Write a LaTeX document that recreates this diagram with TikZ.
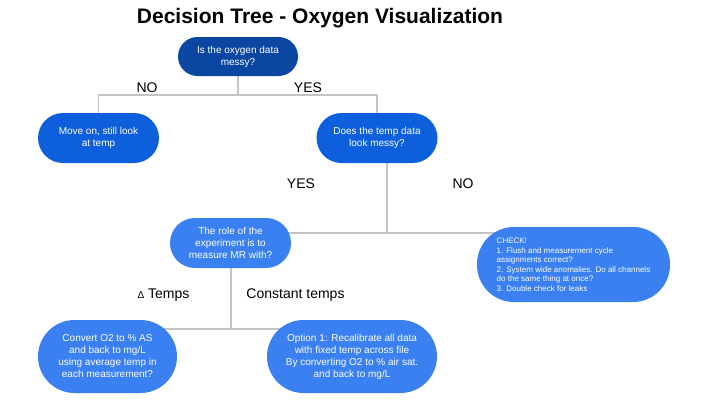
\documentclass[tikz,border=0pt]{standalone}
\usepackage{fontspec}
\setmainfont{Liberation Sans}
\pgfdeclarelayer{bg}
\pgfsetlayers{bg,main}
\definecolor{darkblue}{HTML}{0B47A1}
\definecolor{midblue}{HTML}{0E5FDC}
\definecolor{lightblue}{HTML}{3A80F0}
\definecolor{linegray}{HTML}{C4C4C4}
\tikzset{
  box/.style={rectangle, inner sep=0pt, text=white, align=center, font=\fontsize{10}{12}\selectfont},
  lbl/.style={font=\fontsize{14}{14}\selectfont, inner sep=0pt},
  conn/.style={draw=linegray, line width=1.2pt}
}
\begin{document}
\begin{tikzpicture}[x=1pt,y=-1pt]
\useasboundingbox (0,0) rectangle (720,405);
\node[font=\bfseries\fontsize{21}{21}\selectfont, inner sep=0pt] (title) at (320,18) {Decision Tree - Oxygen Visualization};

\node[box, fill=darkblue, minimum width=120, minimum height=39, rounded corners=19.5] (q1) at (238,56.5) {Is the oxygen data\\messy?};
\node[box, fill=midblue, minimum width=121, minimum height=50, rounded corners=25] (n2) at (98.5,138) {Move on, still look\\at temp};
\node[box, fill=midblue, minimum width=121, minimum height=50, rounded corners=25] (n3) at (377,138) {Does the temp data\\look messy?};
\node[box, fill=lightblue, minimum width=121, minimum height=50, rounded corners=25] (role) at (230.5,243) {The role of the\\experiment is to\\measure MR with?};
\node[box, fill=lightblue, minimum width=193, minimum height=75, rounded corners=37, align=left, font=\fontsize{8}{9.5}\selectfont] (check) at (573.5,264.5) {CHECK!\\1. Flush and measurement cycle\\assignments correct?\\2. System wide anomalies. Do all channels\\do the same thing at once?\\3. Double check for leaks};
\node[box, fill=lightblue, minimum width=139, minimum height=73, rounded corners=36.5] (convert) at (107.5,356.5) {Convert O2 to \% AS\\and back to mg/L\\using average temp in\\each measurement?};
\node[box, fill=lightblue, minimum width=170, minimum height=73, rounded corners=36.5] (option) at (352,356.5) {Option 1: Recalibrate all data\\with fixed temp across file\\By converting O2 to \% air sat.\\and back to mg/L};

\node[lbl] (lno1) at (147,88) {NO};
\node[lbl] (lyes1) at (308,88) {YES};
\node[lbl] (lyes2) at (301,184) {YES};
\node[lbl] (lno2) at (463,184) {NO};
\node[lbl] (ldelta) at (163.5,295) {{\fontsize{10}{10}\selectfont Δ} Temps};
\node[lbl] (lconst) at (295.5,295) {Constant temps};

\coordinate (j1) at (238,95);
\coordinate (j2) at (387,233);
\coordinate (j3) at (231,329);
\begin{pgfonlayer}{bg}
\fill[white] (0,0) rectangle (720,405);
\draw[conn] (q1.south) -- (j1);
\draw[conn] (n2.north) |- (j1) -| (n3.north);
\draw[conn] (j2 |- n3.south) -- (j2);
\draw[conn] (role.center |- j2) -- (check.center |- j2);
\draw[conn] (j3 |- role.south) -- (j3);
\draw[conn] (convert.center |- j3) -- (option.center |- j3);
\end{pgfonlayer}
\end{tikzpicture}
\end{document}
